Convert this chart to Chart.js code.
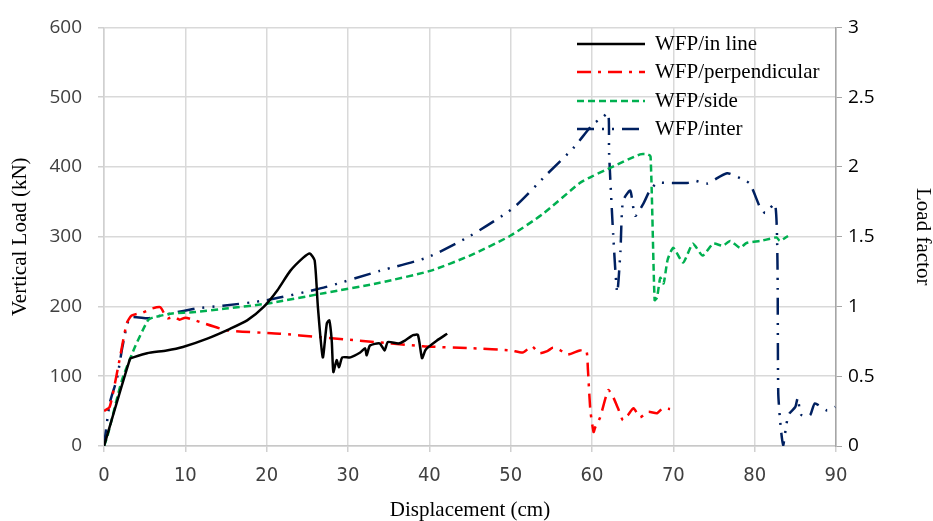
<!DOCTYPE html>
<html>
<head>
<meta charset="utf-8">
<script src="https://cdn.jsdelivr.net/npm/chart.js@4.4.1/dist/chart.umd.min.js"></script>
<style>
  html, body { margin: 0; padding: 0; background: #fff; }
  #wrap { width: 933px; height: 521px; }
</style>
</head>
<body>
<div id="wrap"><canvas id="mycanvas"></canvas></div>
<script>
// series labels
var seriesNames = ['WFP/in line', 'WFP/perpendicular', 'WFP/side', 'WFP/inter'];

// WFP/in line
var inLineX = [0, 3.2, 3.6, 5.3, 7.7, 9.7, 12.7, 15.5, 17.6, 19.6, 21.3, 22.9, 24.5, 25.3, 25.9, 26.3, 26.9, 27.4, 27.7, 28.0, 28.2, 28.6, 28.9, 29.3, 30.3, 31.5, 32.1, 32.3, 32.7, 33.9, 34.5, 34.9, 36.2, 37.0, 38.0, 38.6, 39.1, 39.5, 39.8, 40.9, 42.2];
var inLineY = [0, 125, 127, 133, 137, 142, 154, 168, 180, 199, 223, 251, 270, 276, 266, 199, 127, 176, 180, 151, 106, 123, 113, 127, 127, 134, 140, 130, 144, 147, 137, 149, 147, 151, 159, 159, 126, 137, 141, 151, 161];

// WFP/perpendicular
var perpX = [0, 0.7, 1.7, 2.8, 3.4, 4.7, 5.9, 6.9, 7.4, 7.8, 8.6, 9.3, 10.0, 11.2, 15.1, 21.6, 26.6, 31.5, 39.2, 45.4, 50.0, 51.5, 52.6, 53.5, 54.5, 55.2, 56.0, 57.0, 58.5, 59.3, 59.5, 59.8, 60.2, 60.4, 61.0, 62.0, 62.6, 63.2, 63.8, 64.4, 65.1, 65.9, 66.9, 68.0, 68.7, 69.6];
var perpY = [50, 56, 111, 176, 187, 191, 197, 199, 190, 183, 185, 181, 184, 180, 166, 161, 156, 151, 143, 140, 137, 134, 143, 133, 136, 141, 138, 131, 137, 137, 109, 51, 20, 27, 41, 80, 70, 54, 37, 44, 54, 41, 49, 47, 54, 53];

// WFP/side
var sideX = [0, 0.4, 2.2, 3.8, 5.4, 6.0, 8.4, 11.2, 15.0, 20.0, 27.0, 33.9, 40.1, 45.0, 49.9, 54.0, 58.5, 60.1, 62.5, 65.9, 66.8, 67.2, 67.7, 68.0, 68.4, 68.8, 69.3, 70.0, 71.2, 72.4, 73.6, 74.9, 76.1, 77.0, 78.2, 79.0, 80.7, 81.9, 82.7, 83.1, 84.1];
var sideY = [0, 13, 94, 142, 180, 184, 190, 192, 197, 204, 219, 234, 251, 273, 301, 333, 377, 387, 400, 418, 418, 415, 209, 213, 241, 233, 267, 284, 263, 290, 273, 290, 287, 294, 284, 291, 294, 297, 299, 294, 301];

// WFP/inter
var interX = [0, 0.7, 1.6, 2.3, 3.2, 5.4, 7.1, 11.2, 14.6, 20.0, 27.0, 33.9, 39.7, 45.0, 50.3, 54.5, 57.7, 60.1, 61.2, 62.0, 62.1, 62.6, 63.1, 63.5, 63.8, 64.7, 65.3, 66.3, 67.1, 68.0, 69.2, 71.7, 72.7, 74.1, 76.6, 78.2, 79.4, 80.7, 81.3, 82.5, 82.8, 82.9, 83.2, 83.5, 83.8, 84.0, 84.3, 85.0, 85.3, 85.7, 86.8, 87.4, 88.9, 89.9];
var interY = [0, 61, 97, 144, 184, 183, 187, 197, 201, 209, 227, 251, 270, 301, 341, 390, 427, 461, 470, 477, 420, 304, 220, 280, 351, 366, 330, 347, 366, 377, 377, 377, 380, 376, 391, 384, 376, 341, 334, 347, 266, 76, 27, 1, 23, 37, 47, 56, 69, 45, 44, 61, 51, 56];

// axes
var xTicks = [0, 10, 20, 30, 40, 50, 60, 70, 80, 90];
var loadTicks = [0, 100, 200, 300, 400, 500, 600];
var factorTicks = [0, 0.5, 1, 1.5, 2, 2.5, 3];

function pts(xs, ys) {
  var out = [];
  for (var i in xs) out.push({ x: xs[i], y: ys[i] });
  return out;
}

var serif = "'Liberation Serif', 'Times New Roman', serif";
var tickFont = "'Open Sans', 'Noto Sans', sans-serif";

var chartdata = {
  datasets: [
    { label: seriesNames[0], data: pts(inLineX, inLineY), borderColor: '#000000', borderWidth: 2.5, borderDash: [] },
    { label: seriesNames[1], data: pts(perpX, perpY), borderColor: '#ff0000', borderWidth: 2.5, borderDash: [14, 7, 3, 7] },
    { label: seriesNames[2], data: pts(sideX, sideY), borderColor: '#00b050', borderWidth: 2.5, borderDash: [7, 4] },
    { label: seriesNames[3], data: pts(interX, interY), borderColor: '#002060', borderWidth: 2.5, borderDash: [17, 8, 2, 8, 2, 8] }
  ]
};
chartdata.datasets.forEach(function(d) {
  d.showLine = true;
  d.pointRadius = 0;
  d.tension = 0.2;
  d.fill = false;
  d.yAxisID = 'y';
});

// legend drawn inside plot area, top right
var legendInside = {
  id: 'legendInside',
  afterDatasetsDraw: function(chart) {
    var c = chart.ctx;
    var x0 = 577, x1 = 645, tx = 655;
    var rows = [44, 72, 101, 129];
    c.save();
    chart.data.datasets.forEach(function(d, i) {
      c.beginPath();
      c.strokeStyle = d.borderColor;
      c.lineWidth = 2.5;
      c.setLineDash(d.borderDash);
      c.moveTo(x0, rows[i]);
      c.lineTo(x1, rows[i]);
      c.stroke();
      c.setLineDash([]);
      c.fillStyle = '#000';
      c.font = "21px " + serif;
      c.textBaseline = 'middle';
      c.textAlign = 'left';
      c.fillText(d.label, tx, rows[i]);
    });
    c.restore();
  }
};

var ctx = document.getElementById('mycanvas');

var lineGraph = new Chart(ctx, {
  type: 'scatter',
  data: chartdata,
  plugins: [legendInside],
  options: {
    responsive: true,
    maintainAspectRatio: false,
    animation: false,
    layout: { padding: { top: 26, left: 0, right: 0, bottom: 0 } },
    plugins: { legend: { display: false }, tooltip: { enabled: false } },
    scales: {
      x: {
        type: 'linear',
        min: 0, max: 90,
        afterBuildTicks: function(s) { s.ticks = xTicks.map(function(v) { return { value: v }; }); },
        afterFit: function(s) { s.height = 75; },
        grid: { color: '#d9d9d9', lineWidth: 1.5, tickLength: 6, tickColor: '#d0d0d0' },
        border: { color: '#c8c8c8', width: 1.5 },
        ticks: { color: '#404040', padding: 12, font: { family: "'DejaVu Sans Condensed', 'Liberation Sans Narrow', 'Open Sans', sans-serif", size: 20 }, maxRotation: 0 },
        title: { display: true, text: 'Displacement (cm)', color: '#000', font: { family: serif, size: 21 }, padding: { top: 0, bottom: -2 } }
      },
      y: {
        position: 'left',
        min: 0, max: 600,
        afterBuildTicks: function(s) { s.ticks = loadTicks.map(function(v) { return { value: v }; }); },
        afterFit: function(s) { s.width = 104; },
        grid: { color: '#d9d9d9', lineWidth: 1.5, tickLength: 6, tickColor: '#d0d0d0' },
        border: { color: '#d0d0d0', width: 1.5 },
        ticks: { color: '#404040', padding: 16, font: { family: tickFont, size: 19 } },
        title: { display: true, text: 'Vertical Load (kN)', color: '#000', font: { family: serif, size: 21 }, padding: { top: 8, bottom: 0 } }
      },
      y2: {
        position: 'right',
        min: 0, max: 3,
        afterBuildTicks: function(s) { s.ticks = factorTicks.map(function(v) { return { value: v }; }); },
        afterFit: function(s) { s.width = 97; },
        grid: { drawOnChartArea: false, tickLength: 6, tickColor: '#a6a6a6' },
        border: { color: '#a6a6a6', width: 1.5 },
        ticks: { color: '#000', padding: 6, font: { family: tickFont, size: 19 }, callback: function(v) { return String(v); } },
        title: { display: true, text: 'Load factor', color: '#000', font: { family: serif, size: 21, lineHeight: 1 }, padding: { top: 0, bottom: 0 } }
      }
    }
  }
});
</script>
</body>
</html>
